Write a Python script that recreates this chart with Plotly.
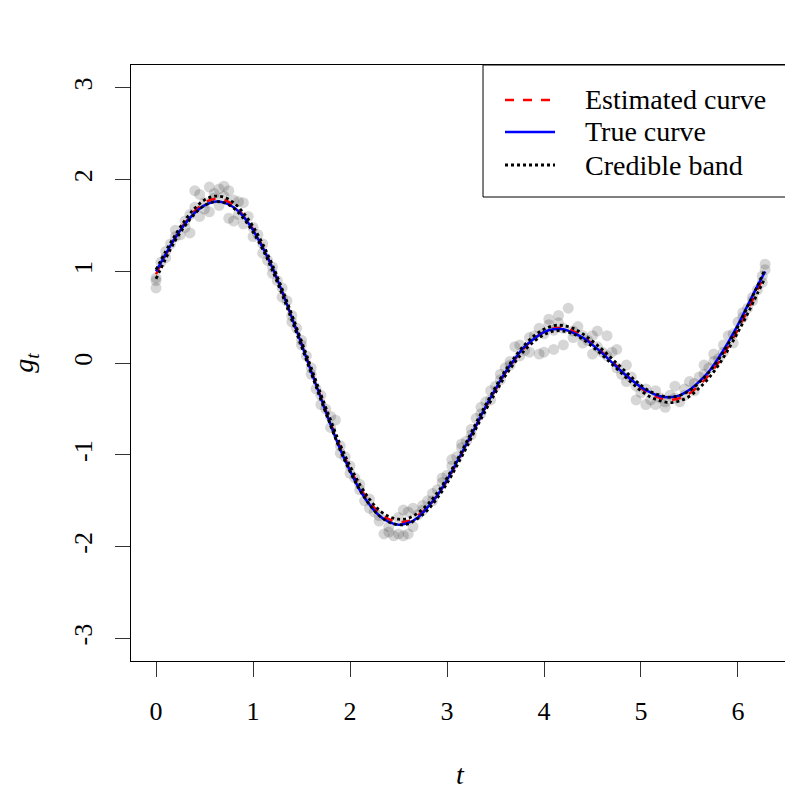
import plotly.graph_objects as go

# ---- curve grid ----
t_grid = [0.0, 0.1, 0.2, 0.3, 0.4, 0.5, 0.6, 0.7, 0.8, 0.9,
          1.0, 1.1, 1.2, 1.3, 1.4, 1.5, 1.6, 1.7, 1.8, 1.9,
          2.0, 2.1, 2.2, 2.3, 2.4, 2.5, 2.6, 2.7, 2.8, 2.9,
          3.0, 3.1, 3.2, 3.3, 3.4, 3.5, 3.6, 3.7, 3.8, 3.9,
          4.0, 4.1, 4.2, 4.3, 4.4, 4.5, 4.6, 4.7, 4.8, 4.9,
          5.0, 5.1, 5.2, 5.3, 5.4, 5.5, 5.6, 5.7, 5.8, 5.9,
          6.0, 6.1, 6.2, 6.28]

true_curve = [1.00, 1.19, 1.37, 1.52, 1.64, 1.72, 1.76, 1.75, 1.70, 1.60,
              1.45, 1.26, 1.04, 0.78, 0.50, 0.21, -0.09, -0.38, -0.67, -0.94,
              -1.17, -1.38, -1.54, -1.66, -1.73, -1.76, -1.74, -1.68, -1.57, -1.44,
              -1.27, -1.08, -0.88, -0.68, -0.47, -0.28, -0.10, 0.05, 0.18, 0.27,
              0.34, 0.37, 0.37, 0.33, 0.28, 0.20, 0.11, 0.01, -0.09, -0.18,
              -0.26, -0.32, -0.36, -0.37, -0.35, -0.29, -0.20, -0.09, 0.06, 0.23,
              0.42, 0.63, 0.84, 1.00]

est_curve = [0.97, 1.18, 1.37, 1.53, 1.66, 1.75, 1.79, 1.78, 1.72, 1.61,
             1.46, 1.27, 1.04, 0.78, 0.50, 0.21, -0.08, -0.37, -0.65, -0.92,
             -1.15, -1.35, -1.51, -1.63, -1.70, -1.73, -1.72, -1.66, -1.57, -1.44,
             -1.28, -1.09, -0.89, -0.68, -0.48, -0.29, -0.11, 0.04, 0.17, 0.27,
             0.34, 0.38, 0.38, 0.35, 0.29, 0.21, 0.12, 0.02, -0.08, -0.18,
             -0.27, -0.34, -0.38, -0.40, -0.38, -0.33, -0.24, -0.13, 0.01, 0.18,
             0.37, 0.58, 0.80, 0.98]

band_halfwidth = [0.05, 0.04, 0.03, 0.03, 0.03, 0.03, 0.03, 0.03, 0.03, 0.03,
                  0.03, 0.03, 0.03, 0.03, 0.03, 0.03, 0.03, 0.03, 0.03, 0.03,
                  0.03, 0.03, 0.03, 0.03, 0.03, 0.03, 0.03, 0.03, 0.03, 0.03,
                  0.03, 0.03, 0.03, 0.03, 0.03, 0.03, 0.03, 0.03, 0.03, 0.03,
                  0.03, 0.03, 0.03, 0.03, 0.03, 0.03, 0.03, 0.03, 0.03, 0.03,
                  0.03, 0.03, 0.03, 0.03, 0.03, 0.03, 0.03, 0.03, 0.03, 0.03,
                  0.03, 0.04, 0.04, 0.05]

band_lower = [e - h for e, h in zip(est_curve, band_halfwidth)]
band_upper = [e + h for e, h in zip(est_curve, band_halfwidth)]

# ---- observations ----
obs_t = [0.00, 0.00, 0.00, 0.05, 0.10, 0.10, 0.15, 0.20, 0.20, 0.25,
         0.30, 0.30, 0.35, 0.35, 0.40, 0.40, 0.45, 0.45, 0.50, 0.50,
         0.55, 0.55, 0.60, 0.60, 0.65, 0.65, 0.70, 0.70, 0.75, 0.75,
         0.80, 0.80, 0.85, 0.85, 0.90, 0.90, 0.95, 1.00, 1.00, 1.05,
         1.10, 1.10, 1.15, 1.20, 1.20, 1.25, 1.30, 1.30, 1.35, 1.40,
         1.40, 1.45, 1.50, 1.50, 1.55, 1.60, 1.60, 1.65, 1.70, 1.70,
         1.75, 1.80, 1.80, 1.85, 1.90, 1.90, 1.95, 2.00, 2.00, 2.05,
         2.10, 2.10, 2.15, 2.20, 2.20, 2.25, 2.30, 2.30, 2.35, 2.40,
         2.40, 2.45, 2.50, 2.50, 2.55, 2.55, 2.60, 2.60, 2.65, 2.65,
         2.70, 2.75, 2.75, 2.80, 2.85, 2.85, 2.90, 2.95, 2.95, 3.00,
         3.05, 3.05, 3.10, 3.15, 3.15, 3.20, 3.25, 3.25, 3.30, 3.35,
         3.35, 3.40, 3.45, 3.45, 3.50, 3.55, 3.55, 3.60, 3.65, 3.65,
         3.70, 3.75, 3.75, 3.80, 3.85, 3.85, 3.90, 3.95, 3.95, 4.00,
         4.00, 4.05, 4.05, 4.10, 4.10, 4.15, 4.15, 4.20, 4.20, 4.25,
         4.30, 4.30, 4.35, 4.40, 4.40, 4.45, 4.50, 4.50, 4.55, 4.55,
         4.60, 4.65, 4.65, 4.70, 4.75, 4.75, 4.80, 4.85, 4.85, 4.90,
         4.95, 4.95, 5.00, 5.05, 5.05, 5.10, 5.15, 5.15, 5.20, 5.25,
         5.25, 5.30, 5.35, 5.35, 5.40, 5.45, 5.45, 5.50, 5.55, 5.55,
         5.60, 5.65, 5.65, 5.70, 5.75, 5.75, 5.80, 5.85, 5.85, 5.90,
         5.95, 5.95, 6.00, 6.05, 6.05, 6.10, 6.15, 6.15, 6.20, 6.25,
         6.25, 6.28, 6.28]

obs_g = [0.93, 0.82, 0.90, 1.10, 1.15, 1.22, 1.30, 1.38, 1.45, 1.40,
         1.55, 1.48, 1.62, 1.42, 1.88, 1.70, 1.84, 1.60, 1.75, 1.68,
         1.92, 1.65, 1.85, 1.80, 1.90, 1.72, 1.93, 1.82, 1.88, 1.58,
         1.78, 1.55, 1.76, 1.62, 1.75, 1.52, 1.60, 1.48, 1.38, 1.40,
         1.20, 1.30, 1.12, 0.98, 1.05, 0.90, 0.72, 0.82, 0.68, 0.52,
         0.45, 0.38, 0.20, 0.25, 0.08, -0.05, -0.12, -0.28, -0.35, -0.45,
         -0.50, -0.58, -0.70, -0.62, -0.98, -0.90, -1.02, -1.12, -1.20, -1.25,
         -1.38, -1.32, -1.50, -1.48, -1.58, -1.62, -1.72, -1.66, -1.86, -1.84,
         -1.78, -1.88, -1.86, -1.68, -1.88, -1.60, -1.62, -1.86, -1.58, -1.78,
         -1.65, -1.55, -1.60, -1.50, -1.42, -1.50, -1.38, -1.30, -1.25, -1.22,
         -1.12, -1.05, -1.02, -0.92, -0.88, -0.85, -0.78, -0.72, -0.60, -0.55,
         -0.48, -0.42, -0.40, -0.30, -0.25, -0.18, -0.12, -0.05, 0.02, -0.02,
         0.18, 0.08, 0.20, 0.14, 0.28, 0.12, 0.30, 0.10, 0.38, 0.32,
         0.12, 0.48, 0.42, 0.36, 0.15, 0.52, 0.44, 0.38, 0.20, 0.60,
         0.35, 0.28, 0.40, 0.22, 0.30, 0.25, 0.10, 0.30, 0.35, 0.18,
         0.12, 0.30, 0.08, 0.12, -0.05, 0.15, -0.12, -0.20, -0.02, -0.15,
         -0.40, -0.25, -0.32, -0.28, -0.45, -0.40, -0.45, -0.30, -0.38, -0.48,
         -0.42, -0.35, -0.38, -0.25, -0.42, -0.28, -0.35, -0.20, -0.22, -0.30,
         -0.15, -0.12, -0.02, -0.05, 0.10, 0.02, 0.05, 0.20, 0.12, 0.30,
         0.32, 0.22, 0.45, 0.55, 0.50, 0.60, 0.72, 0.68, 0.80, 0.95,
         0.88, 1.08, 1.02]

x_ticks = [0, 1, 2, 3, 4, 5, 6]
x_ticktext = ["0", "1", "2", "3", "4", "5", "6"]
y_ticks = [-3, -2, -1, 0, 1, 2, 3]
y_ticktext = ["-3", "-2", "-1", "0", "1", "2", "3"]

legend_labels = ["Estimated curve", "True curve", "Credible band"]
legend_colors = ["red", "blue", "black"]
legend_dashes = ["dash", "solid", "dot"]

FONT = "Liberation Serif"

fig = go.Figure()

fig.add_trace(go.Scatter(
    x=obs_t, y=obs_g, mode="markers",
    marker=dict(size=11, color="rgba(0,0,0,0.16)", line=dict(width=0)),
    showlegend=False, hoverinfo="skip"))

fig.add_trace(go.Scatter(
    x=t_grid, y=est_curve, mode="lines", name=legend_labels[0], showlegend=False,
    line=dict(color="red", width=2.5, dash="dash", shape="spline")))

fig.add_trace(go.Scatter(
    x=t_grid, y=true_curve, mode="lines", name=legend_labels[1], showlegend=False,
    line=dict(color="blue", width=2.5, shape="spline")))

fig.add_trace(go.Scatter(
    x=t_grid, y=band_lower, mode="lines", name=legend_labels[2], showlegend=False,
    line=dict(color="black", width=2.8, dash="dot", shape="spline")))

fig.add_trace(go.Scatter(
    x=t_grid, y=band_upper, mode="lines", name=legend_labels[2], showlegend=False,
    line=dict(color="black", width=2.8, dash="dot", shape="spline")))

axis_common = dict(
    showgrid=False, zeroline=False,
    showline=True, mirror=True, linecolor="black", linewidth=1,
    ticks="outside", ticklen=15, tickwidth=1, tickcolor="#333",
    tickfont=dict(family=FONT, size=26, color="black"),
)

fig.update_xaxes(
    **axis_common,
    range=[-0.258, 6.526],
    tickvals=x_ticks, ticktext=x_ticktext,
    ticklabelstandoff=12,
    title=dict(text="<i>t</i>", font=dict(family=FONT, size=28, color="black"),
               standoff=39),
)
fig.update_yaxes(
    **axis_common,
    range=[-3.245, 3.25],
    tickvals=y_ticks, ticktext=y_ticktext,
    tickangle=-90,
    ticklabelstandoff=13,
    title=dict(text="<i>g</i><sub><i>t</i></sub>",
               font=dict(family=FONT, size=28, color="black"),
               standoff=48),
)

# ---- legend box drawn in paper coordinates ----
shapes = [dict(type="rect", xref="paper", yref="paper",
               x0=0.535, x1=1.0, y0=0.7785, y1=1.0,
               line=dict(color="black", width=1), fillcolor="white", layer="above")]
annotations = []
row_y = [0.9413, 0.8876, 0.8322]
for lab, col, dsh, yy in zip(legend_labels, legend_colors, legend_dashes, row_y):
    shapes.append(dict(type="line", xref="paper", yref="paper",
                       x0=0.5684, x1=0.6444, y0=yy, y1=yy,
                       line=dict(color=col, width=2.5 if dsh != "dot" else 2.8, dash=dsh),
                       layer="above"))
    annotations.append(dict(xref="paper", yref="paper", x=0.6869, y=yy,
                            xanchor="left", yanchor="middle", showarrow=False,
                            text=lab, font=dict(family=FONT, size=28, color="black")))

# page body has an 8px default margin, so the figure is 785px and offset margins
fig.update_layout(
    width=785, height=785,
    margin=dict(l=123, r=4, t=57, b=132, autoexpand=False),
    plot_bgcolor="white", paper_bgcolor="white",
    showlegend=False,
    shapes=shapes, annotations=annotations,
)

fig.write_html("out.html")
